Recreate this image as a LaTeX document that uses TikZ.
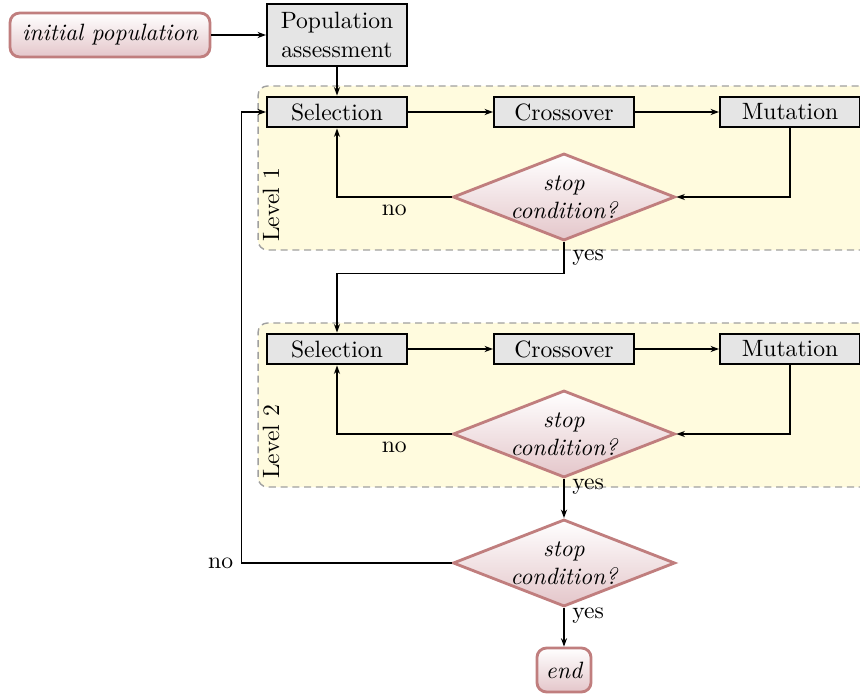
\documentclass[tikz,border=0pt]{standalone}
\usetikzlibrary{shapes.geometric,arrows.meta}
\definecolor{pinkborder}{RGB}{192,126,126}
\definecolor{pinkbottom}{RGB}{228,198,202}
\definecolor{levelfill}{RGB}{255,251,222}
\definecolor{levelborder}{RGB}{160,160,160}
\tikzset{
  arr/.style={-{Stealth[length=3.6pt,width=2.6pt]}, line width=0.45pt},
  graybox/.style={draw, line width=0.85pt, fill=black!10, minimum width=59.3pt, minimum height=13.1pt, inner sep=1pt, align=center},
  termbox/.style={draw=pinkborder, line width=1.2pt, rounded corners=4pt, top color=white, bottom color=pinkbottom, minimum height=18.6pt, inner sep=2pt, font=\itshape},
  decision/.style={diamond, draw=pinkborder, line width=1.2pt, top color=white, bottom color=pinkbottom, minimum width=94.1pt, minimum height=36.9pt, inner sep=-2pt, shape aspect=2.55, align=center, font=\itshape},
  levelbox/.style={draw=levelborder, fill=levelfill, line width=0.6pt, dash pattern=on 3pt off 2pt, rounded corners=4pt, minimum width=263.5pt, minimum height=69.5pt, inner sep=0pt},
}
\begin{document}
\begin{tikzpicture}[x=0.4237pt, y=-0.4237pt]
\clip (0,0) rectangle (860,698);
% level containers
\node[levelbox] (lev1) at (569,168) {};
\node[levelbox] (lev2) at (569,405) {};
\node[rotate=90] (lab1) at (271,205) {Level 1};
\node[rotate=90] (lab2) at (271,442) {Level 2};
% nodes
\node[termbox, minimum width=84.7pt] (init) at (110,35) {initial population};
\node[graybox, minimum height=26.3pt] (pa) at (337,35) {Population\\assessment};
\node[graybox] (sel1) at (337,112) {Selection};
\node[graybox] (cro1) at (564,112) {Crossover};
\node[graybox] (mut1) at (790,112) {Mutation};
\node[decision] (dia1) at (564,197) {stop\\condition?};
\node[graybox] (sel2) at (337,349) {Selection};
\node[graybox] (cro2) at (564,349) {Crossover};
\node[graybox] (mut2) at (790,349) {Mutation};
\node[decision] (dia2) at (564,434) {stop\\condition?};
\node[decision] (dia3) at (564,563) {stop\\condition?};
\node[termbox, minimum width=22.9pt] (end) at (564,670) {end};
% connectors
\draw[arr] (init) -- (pa);
\draw[arr] (pa) -- (sel1);
\draw[arr] (sel1) -- (cro1);
\draw[arr] (cro1) -- (mut1);
\draw[arr] (mut1.south) |- (dia1.east);
\draw[arr] (dia1.west) -| node[pos=0.25, below] {no} (sel1.south);
\draw[arr] (dia1.south) -- node[right] {yes} ++(0,32) -| (sel2.north);
\draw[arr] (sel2) -- (cro2);
\draw[arr] (cro2) -- (mut2);
\draw[arr] (mut2.south) |- (dia2.east);
\draw[arr] (dia2.west) -| node[pos=0.25, below] {no} (sel2.south);
\draw[arr] (dia2) -- node[pos=0.2, right] {yes} (dia3);
\draw[arr] (dia3.west) -- node[pos=1, left] {no} ++(-210,0) |- (sel1.west);
\draw[arr] (dia3) -- node[pos=0.2, right] {yes} (end);
\end{tikzpicture}
\end{document}
